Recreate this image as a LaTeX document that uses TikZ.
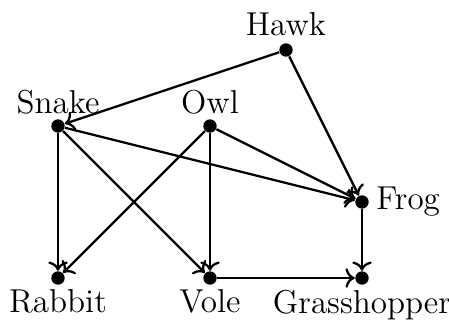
\documentclass[tikz,border=0pt]{standalone}
\usetikzlibrary{arrows.meta}
\begin{document}
\begin{tikzpicture}[
  every label/.style={font=\fontsize{12.4}{15}\selectfont, inner sep=1.5pt},
  species/.style={circle, fill=black, inner sep=0pt, minimum size=5pt},
  eats/.style={->, line width=0.85pt}
]
\useasboundingbox (-0.763,-0.618) rectangle (5.145,3.658);
\node[species, label={[yshift=1pt]above:Hawk}] (hawk) at (3,3) {};
\node[species, label={above:Snake}] (snake) at (0,2) {};
\node[species, label={above:Owl}] (owl) at (2,2) {};
\node[species, label={[xshift=1pt]right:Frog}] (frog) at (4,1) {};
\node[species, label={below:Rabbit}] (rabbit) at (0,0) {};
\node[species, label={below:Vole}] (vole) at (2,0) {};
\node[species, label={below:Grasshopper}] (grass) at (4,0) {};

\draw[eats] (hawk) -- (snake);
\draw[eats] (hawk) -- (frog);
\draw[eats] (snake) -- (frog);
\draw[eats] (snake) -- (rabbit);
\draw[eats] (snake) -- (vole);
\draw[eats] (owl) -- (rabbit);
\draw[eats] (owl) -- (vole);
\draw[eats] (owl) -- (frog);
\draw[eats] (vole) -- (grass);
\draw[eats] (frog) -- (grass);
\end{tikzpicture}
\end{document}
